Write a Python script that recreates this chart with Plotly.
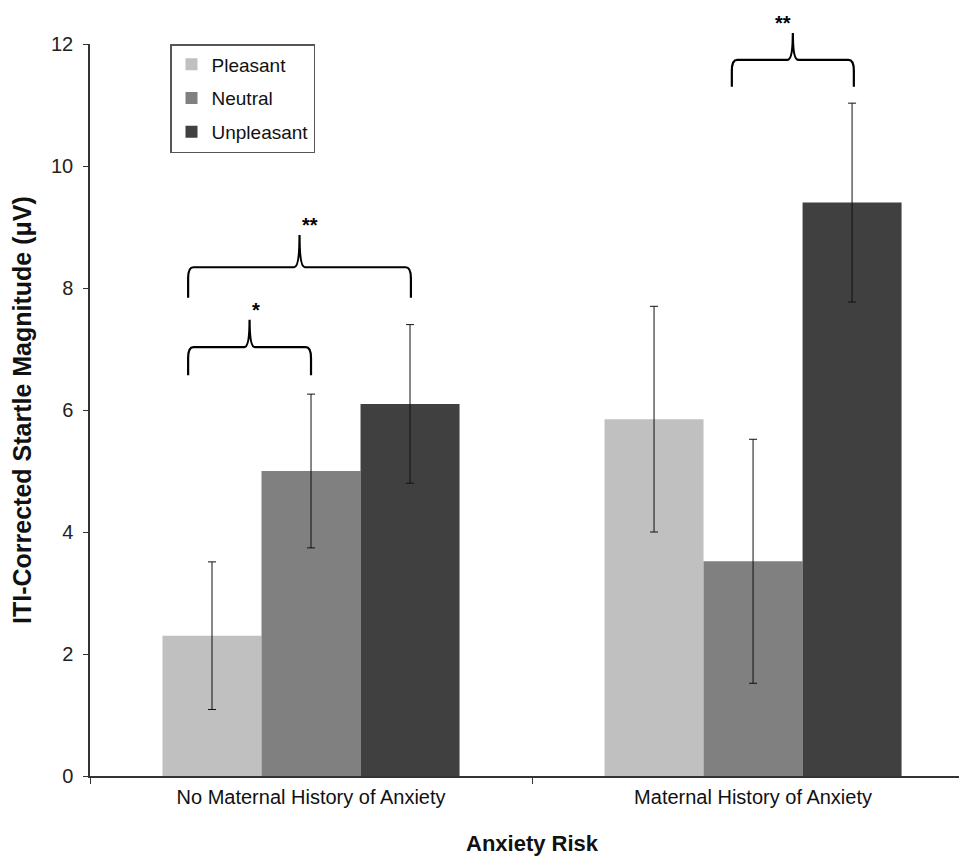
import plotly.graph_objects as go

categories = ["No Maternal History of Anxiety", "Maternal History of Anxiety"]
conditions = ["Pleasant", "Neutral", "Unpleasant"]
pleasant = [2.30, 5.85]
neutral = [5.00, 3.52]
unpleasant = [6.10, 9.40]
pleasant_err = [1.21, 1.85]
neutral_err = [1.26, 2.00]
unpleasant_err = [1.30, 1.63]
colors = ["#c0c0c0", "#808080", "#404040"]
y_ticks = [0, 2, 4, 6, 8, 10, 12]

# significance braces: (x left, x right in category units, y of bar, y ends, y peak, label)
braces = [
    (-0.278, 0.0, 7.03, 6.57, 7.48, "*"),
    (-0.278, 0.226, 8.34, 7.84, 8.87, "**"),
    (0.952, 1.228, 11.74, 11.30, 12.18, "**"),
]

# page body has an 8px margin, so the figure is placed at (8, 8)
W, H = 959, 848
ML, MR, MT, MB = 82, 0, 36, 80
PLOT_W = W - ML - MR
x_range = [-0.5, 1.484]
y_range = [0, 12]

fig = go.Figure()
for name, vals, errs, col in zip(conditions, [pleasant, neutral, unpleasant],
                                 [pleasant_err, neutral_err, unpleasant_err], colors):
    fig.add_trace(go.Bar(
        name=name, x=categories, y=vals, marker_color=col, marker_line_width=0,
        legendgroup=name,
        error_y=dict(type="data", array=errs, color="#111", thickness=1, width=4),
    ))

def px(x):
    return (x - x_range[0]) / (x_range[1] - x_range[0])

def py(y):
    return (y - y_range[0]) / (y_range[1] - y_range[0])

for xl, xr, yb, ye, yp, lab in braces:
    xm = (xl + xr) / 2
    r_x = 0.012
    r_y = 0.18
    path = (
        f"M{px(xl)},{py(ye)} L{px(xl)},{py(yb - r_y)} "
        f"Q{px(xl)},{py(yb)} {px(xl + r_x)},{py(yb)} "
        f"L{px(xm - r_x)},{py(yb)} Q{px(xm)},{py(yb)} {px(xm)},{py(yp)} "
        f"Q{px(xm)},{py(yb)} {px(xm + r_x)},{py(yb)} "
        f"L{px(xr - r_x)},{py(yb)} Q{px(xr)},{py(yb)} {px(xr)},{py(yb - r_y)} "
        f"L{px(xr)},{py(ye)}"
    )
    fig.add_shape(type="path", path=path, xref="paper", yref="paper",
                  line=dict(color="black", width=2.2))
    fig.add_annotation(x=px(xm), y=py(yp), xref="paper", yref="paper",
                       text=f"<b>{lab}</b>", showarrow=False, yanchor="bottom",
                       yshift=-3, font=dict(size=20, color="black"))

# axis titles
fig.add_annotation(x=0, y=0.5, xref="paper", yref="paper", xanchor="center",
                   yanchor="middle", xshift=-68, textangle=-90, showarrow=False,
                   text="<b>ITI-Corrected Startle Magnitude (μV)</b>",
                   font=dict(size=25, color="#111"))
fig.add_annotation(x=(532 - 90) / PLOT_W, y=0, xref="paper", yref="paper",
                   xanchor="center", yanchor="middle", yshift=-67, showarrow=False,
                   text="<b>Anxiety Risk</b>", font=dict(size=22, color="#111"))

fig.update_layout(
    width=W, height=H,
    margin=dict(l=ML, r=MR, t=MT, b=MB, autoexpand=False),
    paper_bgcolor="white", plot_bgcolor="white",
    barmode="group", bargap=0.328, bargroupgap=0,
    font=dict(family="Liberation Sans, Arial, sans-serif", color="#222"),
    showlegend=True,
    legend=dict(x=(170 - 90) / PLOT_W, y=1.0, xanchor="left", yanchor="top",
                bordercolor="#555", borderwidth=1.5, bgcolor="white",
                font=dict(size=19, color="#111"), tracegroupgap=6,
                traceorder="grouped", itemwidth=30),
    xaxis=dict(
        type="category", range=x_range, showline=True, linecolor="#333",
        linewidth=1.5, ticks="outside", tickson="boundaries", ticklen=6,
        tickcolor="#333", showgrid=False, zeroline=False, automargin=False,
        tickfont=dict(size=20, color="#111"), ticklabelstandoff=2,
    ),
    yaxis=dict(
        range=y_range, tickvals=y_ticks, showline=True, linecolor="#333",
        linewidth=1.5, ticks="outside", ticklen=5, tickcolor="#333",
        showgrid=False, zeroline=False, automargin=False,
        tickfont=dict(size=20, color="#222"), ticklabelstandoff=6,
    ),
)

fig.write_html("out.html")
